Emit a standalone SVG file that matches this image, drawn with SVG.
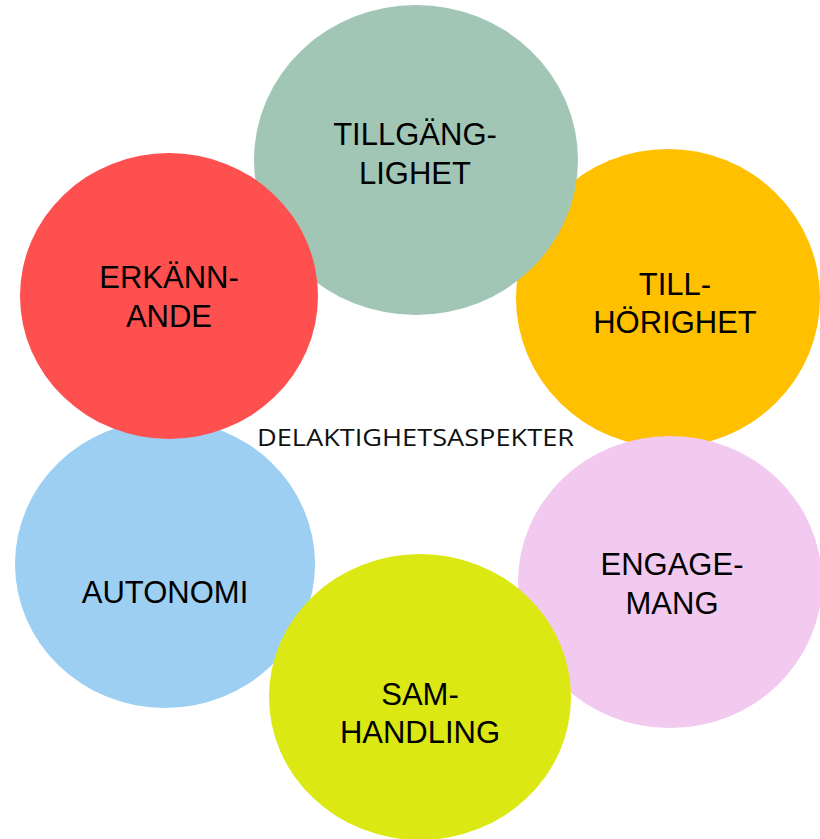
<svg xmlns="http://www.w3.org/2000/svg" width="820" height="839" viewBox="0 0 820 839">
<style>
.lbl{font-family:"Liberation Sans",Arial,sans-serif;font-size:31px;fill:#000;text-anchor:middle}
.ctr{font-family:"Open Sans","DejaVu Sans",sans-serif;font-size:24px;fill:#111;text-anchor:middle}
</style>
<rect width="820" height="839" fill="#fff"/>
<g id="node-tillhorighet"><ellipse cx="668" cy="298" rx="152" ry="149" fill="#FFC000"/><text class="lbl" x="675" y="295">TILL-</text><text class="lbl" x="675" y="333">HÖRIGHET</text></g>
<g id="node-engagemang"><ellipse cx="670" cy="582" rx="152" ry="146" fill="#F2C9EF"/><text class="lbl" x="672" y="575">ENGAGE-</text><text class="lbl" x="672" y="614">MANG</text></g>
<g id="node-autonomi"><ellipse cx="165" cy="564" rx="150" ry="144" fill="#9DCFF2"/><text class="lbl" x="165" y="603">AUTONOMI</text></g>
<g id="node-samhandling"><ellipse cx="420" cy="697" rx="151" ry="143" fill="#DBE814"/><text class="lbl" x="420" y="705">SAM-</text><text class="lbl" x="420" y="743">HANDLING</text></g>
<g id="node-tillganglighet"><ellipse cx="416" cy="160" rx="162" ry="155" fill="#A1C6B6"/><text class="lbl" x="415" y="145">TILLGÄNG-</text><text class="lbl" x="415" y="184">LIGHET</text></g>
<g id="node-erkannande"><ellipse cx="169" cy="296" rx="149" ry="143" fill="#FF5050"/><text class="lbl" x="169" y="288">ERKÄNN-</text><text class="lbl" x="169" y="327">ANDE</text></g>
<g id="center"><text class="ctr" x="415.5" y="446" textLength="317" lengthAdjust="spacingAndGlyphs">DELAKTIGHETSASPEKTER</text></g>
<g id="connectors"></g>
</svg>
